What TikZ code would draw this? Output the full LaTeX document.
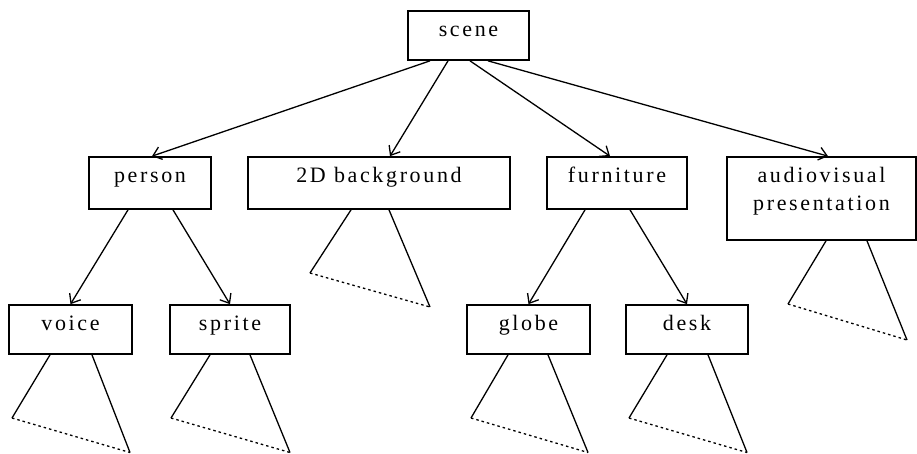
\documentclass[tikz,border=0pt]{standalone}
\usepackage{fontspec}
\setmainfont{Liberation Serif}[LetterSpace=12]
\usetikzlibrary{arrows.meta,calc}
\begin{document}
\begin{tikzpicture}[x=1pt,y=-1pt,
  box/.style={draw, line width=1.7pt, inner sep=0pt},
  lbl/.style={inner sep=0pt, anchor=base, font=\fontsize{22}{28}\selectfont},
  arr/.style={line width=1.3pt, -{Straight Barb[length=8pt,width=13pt,line width=1.3pt]}},
  leg/.style={line width=1.3pt},
  dsh/.style={line width=1.3pt, dash pattern=on 2.5pt off 3pt}]
\useasboundingbox (0,0) rectangle (917,453);

% boxes
\node[box, minimum width=121pt, minimum height=49pt] (scene) at (468.5,35.5) {};
\node[box, minimum width=122pt, minimum height=52pt] (person) at (150,183) {};
\node[box, minimum width=262pt, minimum height=52pt] (bg) at (379,183) {};
\node[box, minimum width=140pt, minimum height=52pt] (furn) at (617,183) {};
\node[box, minimum width=189pt, minimum height=83pt] (av) at (821.5,198.5) {};
\node[box, minimum width=123pt, minimum height=49pt] (voice) at (70.5,329.5) {};
\node[box, minimum width=120pt, minimum height=49pt] (sprite) at (230,329.5) {};
\node[box, minimum width=123pt, minimum height=49pt] (globe) at (528.5,329.5) {};
\node[box, minimum width=122pt, minimum height=49pt] (desk) at (687,329.5) {};

% labels
\node[lbl] (scene-t) at ([yshift=-26pt]scene.north) {scene};
\node[lbl] (person-t) at ([yshift=-26pt]person.north) {person};
\node[lbl] (bg-t) at ([yshift=-26pt]bg.north) {2D background};
\node[lbl] (furn-t) at ([yshift=-26pt]furn.north) {furniture};
\node[lbl] (av-t1) at ([yshift=-26pt]av.north) {audiovisual};
\node[lbl] (av-t2) at ([yshift=-54pt]av.north) {presentation};
\node[lbl] (voice-t) at ([yshift=-26pt]voice.north) {voice};
\node[lbl] (sprite-t) at ([yshift=-26pt]sprite.north) {sprite};
\node[lbl] (globe-t) at ([yshift=-26pt]globe.north) {globe};
\node[lbl] (desk-t) at ([yshift=-26pt]desk.north) {desk};

% arrows
\draw[arr] ([xshift=-38.5pt]scene.south) -- ([xshift=2pt]person.north);
\draw[arr] ([xshift=-20.5pt]scene.south) -- ([xshift=11pt]bg.north);
\draw[arr] ([xshift=1.5pt]scene.south) -- ([xshift=-7pt]furn.north);
\draw[arr] ([xshift=19.5pt]scene.south) -- ([xshift=6.5pt]av.north);
\draw[arr] ([xshift=-22pt]person.south) -- (voice.north);
\draw[arr] ([xshift=23pt]person.south) -- (sprite.north);
\draw[arr] ([xshift=-32pt]furn.south) -- (globe.north);
\draw[arr] ([xshift=13pt]furn.south) -- (desk.north);

% subtree triangles
\coordinate (voice-l) at (12,418);   \coordinate (voice-r) at (130,452.5);
\coordinate (sprite-l) at (171,418); \coordinate (sprite-r) at (290,452.5);
\coordinate (globe-l) at (471,418);  \coordinate (globe-r) at (588,452.5);
\coordinate (desk-l) at (629,418);   \coordinate (desk-r) at (747,452.5);
\coordinate (bg-l) at (310,273);     \coordinate (bg-r) at (430,307);
\coordinate (av-l) at (788,304);     \coordinate (av-r) at (907,340);

\draw[leg] ([xshift=-20.5pt]voice.south) -- (voice-l);
\draw[leg] ([xshift=21.5pt]voice.south) -- (voice-r);
\draw[dsh] (voice-l) -- (voice-r);

\draw[leg] ([xshift=-20pt]sprite.south) -- (sprite-l);
\draw[leg] ([xshift=20pt]sprite.south) -- (sprite-r);
\draw[dsh] (sprite-l) -- (sprite-r);

\draw[leg] ([xshift=-20.5pt]globe.south) -- (globe-l);
\draw[leg] ([xshift=19.5pt]globe.south) -- (globe-r);
\draw[dsh] (globe-l) -- (globe-r);

\draw[leg] ([xshift=-20pt]desk.south) -- (desk-l);
\draw[leg] ([xshift=21pt]desk.south) -- (desk-r);
\draw[dsh] (desk-l) -- (desk-r);

\draw[leg] ([xshift=-28pt]bg.south) -- (bg-l);
\draw[leg] ([xshift=10pt]bg.south) -- (bg-r);
\draw[dsh] (bg-l) -- (bg-r);

\draw[leg] ([xshift=4.5pt]av.south) -- (av-l);
\draw[leg] ([xshift=45.5pt]av.south) -- (av-r);
\draw[dsh] (av-l) -- (av-r);
\end{tikzpicture}
\end{document}
